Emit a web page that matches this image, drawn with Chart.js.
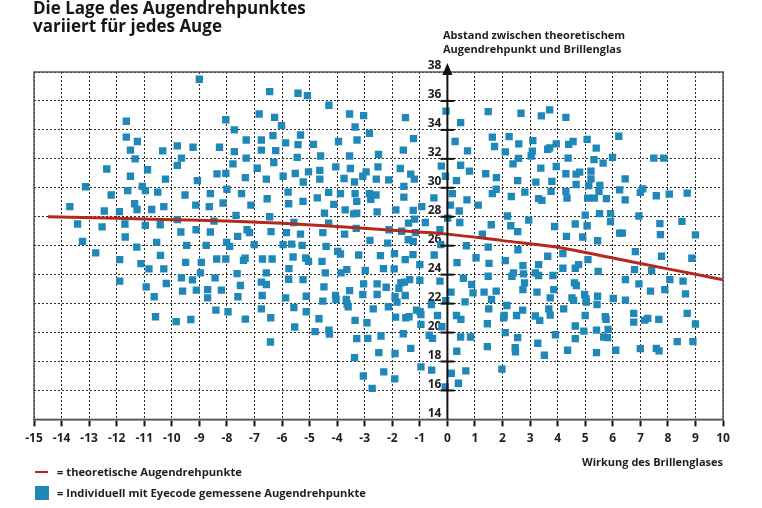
<!DOCTYPE html>
<html lang="de">
<head>
<meta charset="utf-8">
<title>Die Lage des Augendrehpunktes</title>
<script src="https://cdn.jsdelivr.net/npm/chart.js@4.4.1/dist/chart.umd.min.js"></script>
<style>
  html, body { margin: 0; padding: 0; background: #fff; }
  #wrap { position: relative; width: 762px; height: 508px; font-family: "Open Sans", sans-serif; color: #1e1e1e; }
  #myChart { position: absolute; left: 0; top: 0; }
  .title { position: absolute; left: 33px; top: -1px; font-size: 17px; font-weight: 700; line-height: 18px; color: #161616; }
  .ytitle { position: absolute; left: 443px; top: 28px; font-size: 11px; font-weight: 700; line-height: 14px; }
  .legtxt { position: absolute; left: 57px; font-size: 11.2px; font-weight: 700; line-height: 14px; white-space: nowrap; }
  .legline { position: absolute; left: 35px; top: 471px; width: 13px; height: 2px; background: #b5291d; }
  .legbox { position: absolute; left: 35px; top: 486px; width: 14px; height: 14px; background: #1f88b9; }
</style>
</head>
<body>
<div id="wrap">
  <canvas id="myChart" width="762" height="508"></canvas>
  <div class="title">Die Lage des Augendrehpunktes<br>variiert für jedes Auge</div>
  <div class="ytitle">Abstand zwischen theoretischem<br>Augendrehpunkt und Brillenglas</div>
  <div class="legline"></div>
  <div class="legtxt" style="top:465px">= theoretische Augendrehpunkte</div>
  <div class="legbox"></div>
  <div class="legtxt" style="top:486px">= Individuell mit Eyecode gemessene Augendrehpunkte</div>
</div>
<script>
var pointsUpperLeft = [
  [-9.0, 37.5], [-11.65, 34.6], [-8.04, 34.7], [-6.83, 35.1], [-11.65, 33.5], [-11.25, 33.2],
  [-7.73, 34.0], [-7.3, 33.3], [-11.5, 32.6], [-11.33, 32.0], [-10.33, 32.55], [-9.8, 32.9],
  [-9.23, 32.8], [-8.27, 32.8], [-9.65, 32.05], [-7.73, 32.5], [-7.3, 32.05], [-12.36, 31.3],
  [-9.8, 31.55], [-7.78, 31.65], [-6.9, 31.35], [-10.88, 31.25], [-11.5, 30.8], [-10.23, 30.6],
  [-9.07, 30.5], [-8.36, 30.96], [-8.04, 31.0], [-7.33, 30.7], [-13.13, 30.07], [-12.2, 29.5],
  [-11.6, 29.8], [-11.07, 30.1], [-10.96, 29.8], [-10.51, 29.7], [-9.52, 29.5], [-8.6, 29.6],
  [-8.0, 29.9], [-7.47, 29.6], [-13.7, 28.7], [-12.45, 28.4], [-11.9, 28.35], [-11.35, 28.9],
  [-11.26, 28.5], [-10.73, 28.5], [-10.29, 28.7], [-9.13, 28.8], [-8.64, 28.7], [-8.14, 28.95],
  [-7.13, 28.8], [-7.67, 28.1], [-13.42, 27.5], [-12.53, 27.3], [-11.7, 27.5], [-10.96, 27.4],
  [-10.42, 27.45], [-9.8, 27.8], [-9.67, 26.95], [-9.12, 27.1], [-8.6, 26.95], [-8.47, 27.7],
  [-7.27, 27.1], [-7.18, 26.9]
];
var pointsUpperMid = [
  [-6.45, 36.64], [-5.42, 36.53], [-5.08, 36.37], [-4.3, 35.7], [-6.27, 34.87], [-3.55, 35.1],
  [-3.04, 34.99], [-6.02, 34.3], [-3.35, 34.2], [-2.83, 33.77], [-1.52, 34.85], [-6.75, 33.3],
  [-6.33, 33.6], [-5.87, 33.1], [-5.42, 32.98], [-5.33, 33.65], [-4.86, 33.0], [-3.95, 33.2],
  [-3.28, 33.3], [-1.23, 33.4], [-6.75, 32.6], [-6.23, 32.57], [-5.45, 32.1], [-4.6, 32.2],
  [-3.55, 32.2], [-2.5, 32.3], [-1.6, 32.6], [-6.3, 31.75], [-6.57, 30.6], [-5.96, 30.8],
  [-5.52, 30.99], [-5.23, 30.4], [-5.04, 31.1], [-4.63, 31.2], [-4.63, 30.6], [-4.05, 31.45],
  [-3.75, 30.64], [-3.52, 31.33], [-3.37, 30.4], [-3.07, 30.8], [-2.95, 31.1], [-2.58, 30.6],
  [-2.52, 31.45], [-2.13, 30.55], [-1.71, 31.33], [-1.33, 30.94], [-1.2, 30.6], [-6.54, 29.24],
  [-5.78, 29.7], [-5.76, 28.9], [-5.24, 29.06], [-4.72, 29.3], [-4.31, 29.68], [-4.12, 28.85],
  [-3.88, 29.6], [-3.71, 28.48], [-3.35, 29.6], [-3.29, 29.06], [-2.83, 29.6], [-2.78, 29.2],
  [-2.59, 29.5], [-2.55, 28.34], [-1.87, 28.48], [-1.58, 30.1], [-1.58, 29.36], [-1.24, 28.44],
  [-1.19, 27.84], [-0.93, 28.7], [-1.41, 27.56], [-4.46, 28.25], [-3.4, 28.2], [-3.29, 28.25],
  [-6.45, 28.0], [-6.4, 26.97], [-5.57, 27.6], [-5.84, 26.9], [-5.33, 26.8], [-4.52, 26.9],
  [-4.31, 27.56], [-3.73, 26.8], [-3.31, 27.2], [-2.12, 27.1], [-1.66, 27.0], [-1.16, 26.9],
  [-0.8, 27.6], [-0.49, 29.3], [-0.22, 31.5], [-0.07, 30.8], [-0.05, 35.3], [0.11, 28.8],
  [0.01, 27.9], [-0.27, 27.1], [0.18, 29.6], [0.28, 33.2], [0.48, 31.56], [0.33, 30.5],
  [0.48, 34.5], [0.43, 28.4], [0.45, 27.6], [0.73, 32.55], [0.71, 29.17], [0.8, 31.15],
  [1.12, 28.8], [1.27, 26.8], [1.39, 30.97], [1.48, 35.26], [1.59, 27.45], [1.63, 33.5],
  [1.71, 32.85], [1.63, 29.6], [1.77, 29.9], [1.78, 30.7]
];
var pointsUpperRight = [
  [2.67, 35.15], [3.41, 34.97], [3.71, 35.38], [4.3, 34.87], [2.24, 33.54], [2.59, 33.03],
  [3.1, 33.26], [3.95, 33.03], [4.4, 33.0], [4.56, 33.2], [5.07, 33.35], [6.22, 33.56],
  [5.4, 32.74], [2.1, 32.48], [2.38, 31.65], [2.58, 32.03], [3.04, 32.2], [3.08, 32.53],
  [3.64, 32.66], [3.71, 32.76], [4.38, 32.05], [5.32, 31.95], [5.65, 31.7], [5.99, 32.1],
  [7.49, 32.05], [7.85, 32.05], [3.39, 31.36], [3.95, 31.47], [4.3, 30.97], [4.67, 30.94],
  [4.8, 31.08], [5.21, 31.15], [5.21, 30.62], [6.45, 30.62], [2.55, 30.5], [3.21, 30.39],
  [3.79, 30.44], [4.67, 30.23], [5.13, 30.16], [5.53, 30.16], [7.09, 29.93], [2.32, 29.4],
  [2.81, 29.7], [3.31, 29.25], [3.43, 29.13], [3.76, 29.75], [4.3, 29.75], [4.34, 29.29],
  [5.09, 29.29], [5.33, 29.29], [5.5, 29.75], [5.77, 29.25], [6.25, 29.86], [6.45, 29.17],
  [7.0, 29.68], [7.58, 29.45], [8.05, 29.56], [8.7, 29.63], [2.18, 28.05], [2.95, 27.77],
  [5.0, 28.11], [5.52, 28.22], [5.92, 28.22], [5.92, 27.66], [6.95, 28.05], [8.51, 27.68],
  [7.71, 27.52], [2.3, 27.38], [2.55, 26.97], [3.89, 27.33], [4.64, 27.5], [5.07, 27.38],
  [6.25, 26.87], [6.35, 26.87], [7.73, 26.77], [9.0, 26.75]
];
var pointsLowerLeft = [
  [-13.24, 26.3], [-11.69, 26.6], [-7.61, 26.64], [-12.76, 25.5], [-11.89, 25.04], [-11.27, 25.9],
  [-10.55, 26.23], [-10.41, 25.33], [-11.12, 24.76], [-10.83, 24.4], [-10.29, 24.4], [-9.46, 26.02],
  [-8.75, 26.02], [-8.01, 26.23], [-7.9, 25.95], [-7.01, 26.07], [-9.5, 24.85], [-8.93, 24.85],
  [-8.37, 25.08], [-8.04, 25.08], [-7.4, 24.99], [-7.34, 25.13], [-8.96, 24.12], [-7.63, 24.07],
  [-11.89, 23.55], [-10.2, 23.39], [-9.65, 23.78], [-9.25, 23.64], [-8.43, 23.78], [-10.93, 23.16],
  [-9.61, 22.86], [-9.11, 22.93], [-8.7, 22.97], [-8.2, 22.93], [-7.51, 23.25], [-10.64, 22.47],
  [-8.7, 22.4], [-7.6, 22.47], [-8.4, 21.55], [-7.96, 21.44], [-10.59, 21.09], [-9.84, 20.75],
  [-9.31, 20.9], [-7.33, 20.93]
];
var pointsLowerMid = [
  [-5.96, 26.07], [-5.65, 26.11], [-5.27, 26.02], [-4.4, 25.95], [-2.81, 26.37], [-2.17, 26.18],
  [-1.42, 26.41], [-1.24, 26.3], [-0.24, 26.07], [0.69, 26.0], [1.48, 25.9], [-6.71, 25.08],
  [-6.36, 25.08], [-5.6, 25.22], [-5.14, 25.15], [-5.04, 24.92], [-4.55, 24.92], [-3.98, 25.61],
  [-3.88, 25.43], [-3.22, 25.36], [-2.43, 25.31], [-1.92, 25.45], [-1.53, 25.04], [-1.25, 25.38],
  [-0.48, 25.36], [0.35, 24.83], [1.04, 25.17], [1.51, 24.78], [-6.57, 24.12], [-5.75, 24.42],
  [-4.43, 24.12], [-3.86, 24.12], [-3.65, 24.35], [-2.98, 24.3], [-2.32, 24.42], [-1.93, 24.4],
  [-1.0, 24.69], [1.48, 23.89], [-6.75, 23.48], [-6.57, 23.32], [-5.76, 23.68], [-5.24, 23.66],
  [-4.48, 23.16], [-3.55, 22.9], [-3.04, 23.36], [-2.55, 23.36], [-2.22, 23.13], [-1.76, 23.06],
  [-1.69, 23.43], [-1.56, 23.48], [-1.37, 23.66], [-1.0, 23.61], [-0.27, 23.55], [0.58, 23.75],
  [0.88, 23.32], [0.13, 22.79], [0.93, 22.74], [1.33, 22.79], [1.77, 22.86], [-6.72, 22.56],
  [-5.87, 22.4], [-5.12, 22.51], [-4.52, 22.17], [-4.06, 22.56], [-4.04, 22.28], [-3.67, 22.28],
  [-3.64, 21.99], [-3.6, 21.78], [-3.07, 22.63], [-2.55, 22.63], [-1.9, 22.47], [-1.83, 22.1],
  [-1.53, 22.56], [-0.58, 21.94], [-0.06, 22.21], [0.64, 22.12], [1.6, 22.28], [-6.75, 21.64],
  [-5.57, 21.73], [-5.12, 21.44], [-2.69, 21.64], [-2.14, 21.78], [-1.12, 21.55], [-0.99, 21.44],
  [-0.96, 21.25], [-0.36, 21.18], [0.33, 21.18], [0.49, 20.91], [1.5, 21.64], [-6.41, 21.02],
  [-4.66, 20.95], [-3.35, 20.84], [-2.92, 20.68], [-1.88, 21.07], [-1.51, 21.02], [-1.39, 21.09],
  [-0.96, 20.56], [-0.2, 20.4], [1.45, 20.61], [-5.54, 20.38], [-4.8, 20.06], [-4.3, 20.17],
  [-4.28, 19.9], [-6.42, 19.35], [-3.29, 19.58], [-2.89, 19.6], [-2.41, 19.76], [-1.6, 19.92],
  [-0.66, 19.81], [-0.54, 19.6], [0.48, 19.69], [0.84, 19.69], [-3.37, 18.27], [-2.49, 18.61],
  [-1.9, 18.55], [-1.33, 18.91], [0.34, 18.71], [1.45, 19.03], [-3.05, 17.0], [-2.31, 17.28],
  [-1.91, 16.8], [-0.96, 17.63], [-0.57, 17.4], [0.14, 17.19], [0.4, 16.5], [0.67, 17.35],
  [-2.73, 16.14], [-0.08, 16.25]
];
var pointsLowerRight = [
  [4.32, 26.64], [4.91, 26.6], [5.45, 26.34], [2.1, 24.97], [2.56, 25.72], [3.64, 25.27],
  [4.19, 25.45], [5.1, 25.04], [6.82, 25.59], [7.77, 25.27], [8.87, 25.13], [2.74, 24.62],
  [3.31, 24.69], [4.19, 24.44], [4.64, 24.44], [4.76, 24.69], [2.4, 24.12], [2.34, 23.89],
  [2.76, 24.05], [3.19, 24.12], [3.31, 23.94], [3.83, 23.94], [5.47, 24.23], [6.79, 24.35],
  [7.41, 24.28], [2.8, 23.43], [2.74, 22.97], [4.61, 23.43], [4.68, 23.25], [6.46, 23.66],
  [6.95, 23.36], [8.07, 23.66], [8.55, 23.55], [3.25, 22.79], [3.86, 22.97], [7.37, 22.86],
  [7.89, 22.97], [8.64, 22.67], [3.73, 22.4], [4.52, 22.4], [4.58, 22.22], [4.98, 22.63],
  [5.03, 22.33], [5.04, 22.1], [5.45, 22.51], [6.02, 22.35], [6.46, 22.24], [2.16, 21.87],
  [2.73, 21.55], [3.68, 21.64], [4.22, 21.64], [5.43, 21.94], [2.06, 21.18], [2.04, 21.02],
  [2.51, 21.18], [3.19, 21.14], [3.35, 20.84], [3.73, 21.2], [5.0, 21.18], [5.73, 21.09],
  [5.76, 20.91], [6.76, 21.32], [6.76, 20.72], [7.16, 20.86], [7.27, 20.98], [7.67, 20.91],
  [8.7, 21.32], [9.0, 20.59], [4.64, 20.45], [2.1, 19.99], [2.55, 19.65], [3.92, 19.85],
  [4.95, 20.1], [5.41, 20.17], [5.83, 20.22], [5.67, 19.69], [5.81, 19.65], [4.64, 19.58],
  [3.28, 19.26], [2.46, 18.96], [2.47, 18.66], [3.52, 18.43], [4.36, 18.78], [5.41, 18.61],
  [6.11, 18.78], [7.0, 18.89], [7.58, 18.91], [7.68, 18.73], [8.34, 19.37], [8.91, 19.37],
  [1.98, 17.47]
];

// theoretical eye rotation point curve
var theoryX = [-14.5, -12, -10, -8, -6, -4, -2, 0, 2, 4, 6, 8, 10];
var theoryY = [28.0, 27.9, 27.8, 27.7, 27.55, 27.33, 27.06, 26.8, 26.35, 25.9, 25.15, 24.4, 23.65];

var xTicksMin = -15, xTicksMax = 10;
var yTicksMin = 14, yTicksMax = 38;

var inkColor = "#1e1e1e";
var pointBlue = "#1f88b9";
var lineRed = "#b5291d";

document.addEventListener("DOMContentLoaded", function () {
  var allPoints = [].concat(pointsUpperLeft, pointsUpperMid, pointsUpperRight,
    pointsLowerLeft, pointsLowerMid, pointsLowerRight);

  var measured = allPoints.map(function (p) { return { x: p[0], y: p[1] }; });
  var theory = theoryX.map(function (x, i) { return { x: x, y: theoryY[i] }; });

  // frame, arrow on the y axis and the crossing ticks
  var framePlugin = {
    id: "frame",
    afterDraw: function (chart) {
      var ctx = chart.ctx;
      var a = chart.chartArea;
      var x0 = chart.scales.x.getPixelForValue(0);
      ctx.save();
      ctx.strokeStyle = "#555";
      ctx.lineWidth = 1.5;
      ctx.strokeRect(a.left, a.top, a.right - a.left, a.bottom - a.top);

      ctx.strokeStyle = "#111";
      ctx.lineWidth = 2;
      ctx.beginPath();
      ctx.moveTo(x0, a.bottom);
      ctx.lineTo(x0, a.top - 4);
      ctx.stroke();
      chart.scales.y.ticks.forEach(function (t) {
        var py = chart.scales.y.getPixelForValue(t.value);
        if (t.value === yTicksMin || t.value === yTicksMax) return;
        ctx.beginPath();
        ctx.moveTo(x0 - 7, py);
        ctx.lineTo(x0 + 7, py);
        ctx.stroke();
      });

      ctx.fillStyle = "#111";
      ctx.beginPath();
      ctx.moveTo(x0, a.top - 9);
      ctx.lineTo(x0 - 5, a.top + 3);
      ctx.lineTo(x0 + 5, a.top + 3);
      ctx.closePath();
      ctx.fill();
      ctx.restore();
    }
  };

  var ctx = document.getElementById("myChart").getContext("2d");
  window.myChart = new Chart(ctx, {
    type: "scatter",
    data: {
      datasets: [
        {
          label: "theoretische Augendrehpunkte",
          data: theory,
          showLine: true,
          borderColor: lineRed,
          borderWidth: 3,
          pointRadius: 0,
          cubicInterpolationMode: "monotone",
          order: 1
        },
        {
          label: "Individuell mit Eyecode gemessene Augendrehpunkte",
          data: measured,
          pointStyle: "rect",
          pointRadius: 5.2,
          backgroundColor: pointBlue,
          borderWidth: 0,
          order: 2
        }
      ]
    },
    options: {
      responsive: false,
      animation: false,
      layout: { padding: { left: 34, right: 39, top: 72, bottom: 39 } },
      plugins: {
        legend: { display: false },
        tooltip: { enabled: false }
      },
      scales: {
        x: {
          type: "linear",
          position: "bottom",
          min: xTicksMin,
          max: xTicksMax,
          ticks: {
            stepSize: 1,
            autoSkip: false,
            maxRotation: 0,
            padding: 5,
            color: inkColor,
            font: { family: "Open Sans", size: 12, weight: "bold" }
          },
          grid: {
            color: "#2a2a2a",
            lineWidth: 1,
            tickLength: 7,
            tickColor: "#111",
            tickWidth: 2
          },
          border: { display: true, color: "#555", width: 1.5, dash: [2, 2] },
          title: {
            display: true,
            text: "Wirkung des Brillenglases",
            align: "end",
            color: inkColor,
            font: { family: "Open Sans", size: 11, weight: "bold" },
            padding: { top: 5, bottom: 0 }
          }
        },
        y: {
          type: "linear",
          position: { x: 0 },
          min: yTicksMin,
          max: yTicksMax,
          ticks: {
            stepSize: 2,
            labelOffset: -6,
            color: inkColor,
            font: { family: "Open Sans", size: 12, weight: "bold" },
            // keep the labels clear of the axis line
            callback: function (value) { return value + "\u2002"; }
          },
          grid: {
            color: "#2a2a2a",
            lineWidth: 1,
            drawTicks: false
          },
          border: { display: false, dash: [2, 2] }
        }
      }
    },
    plugins: [framePlugin]
  });
});
</script>
</body>
</html>
